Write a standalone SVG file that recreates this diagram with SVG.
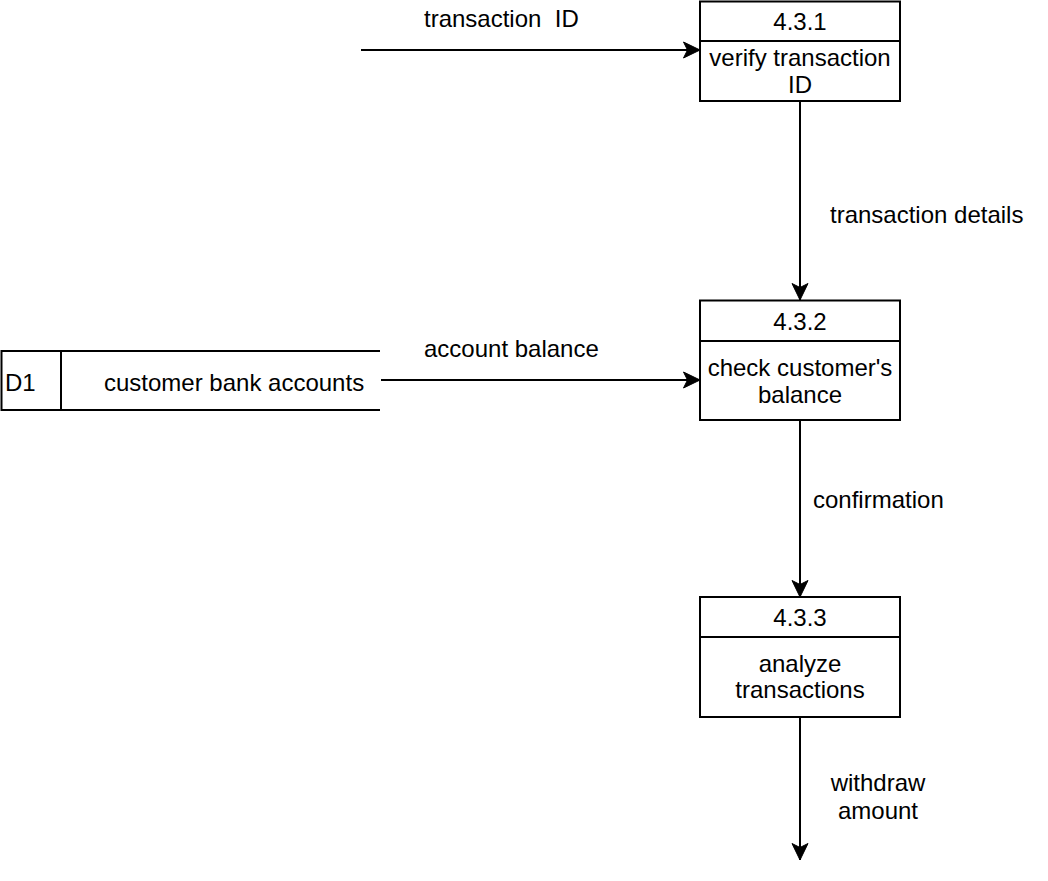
<svg xmlns="http://www.w3.org/2000/svg" width="1048" height="881" viewBox="0 0 1048 881">
<defs>
<marker id="arr" markerUnits="userSpaceOnUse" markerWidth="20" markerHeight="20" viewBox="0 0 20 20" refX="18" refY="10" orient="auto">
<path d="M1.5,2 L18,10 L1.5,18 L5.5,10 Z" fill="#000" stroke="#000" stroke-width="1"/>
</marker>
<style>
text{font-family:"Liberation Sans",Arial,sans-serif;font-size:24px;fill:#000}
.c{text-anchor:middle}
.box{fill:#fff;stroke:#000;stroke-width:2}
.ln{fill:none;stroke:#000;stroke-width:2}
.edge{fill:none;stroke:#000;stroke-width:2;marker-end:url(#arr)}
</style>
</defs>
<rect width="1048" height="881" fill="#fff"/>
<g id="connectors">
<line class="edge" x1="361" y1="50" x2="700" y2="50"/>
<line class="edge" x1="800" y1="101" x2="800" y2="300"/>
<line class="edge" x1="381" y1="380" x2="700" y2="380"/>
<line class="edge" x1="800" y1="420" x2="800" y2="597"/>
<line class="edge" x1="800" y1="717" x2="800" y2="860"/>
<text x="424" y="27" xml:space="preserve">transaction  ID</text>
<text x="830" y="223">transaction details</text>
<text x="424" y="357">account balance</text>
<text x="813" y="508">confirmation</text>
<text class="c" x="878" y="791">withdraw</text>
<text class="c" x="878" y="819">amount</text>
</g>
<g id="p431">
<rect class="box" x="700" y="1.5" width="200" height="99.5"/>
<line class="ln" x1="700" y1="41" x2="900" y2="41"/>
<text class="c" x="800" y="30">4.3.1</text>
<text class="c" x="800" y="66">verify transaction</text>
<text class="c" x="800" y="93">ID</text>
</g>
<g id="p432">
<rect class="box" x="700" y="300.5" width="200" height="119.5"/>
<line class="ln" x1="700" y1="341" x2="900" y2="341"/>
<text class="c" x="800" y="330">4.3.2</text>
<text class="c" x="800" y="376">check customer's</text>
<text class="c" x="800" y="403">balance</text>
</g>
<g id="p433">
<rect class="box" x="700" y="597" width="200" height="120"/>
<line class="ln" x1="700" y1="637" x2="900" y2="637"/>
<text class="c" x="800" y="626">4.3.3</text>
<text class="c" x="800" y="672">analyze</text>
<text class="c" x="800" y="698">transactions</text>
</g>
<g id="d1">
<path class="ln" d="M380,351 H1.5 V410 H380 M61,351 V410"/>
<text x="5" y="391">D1</text>
<text x="104" y="391">customer bank accounts</text>
</g>
</svg>
